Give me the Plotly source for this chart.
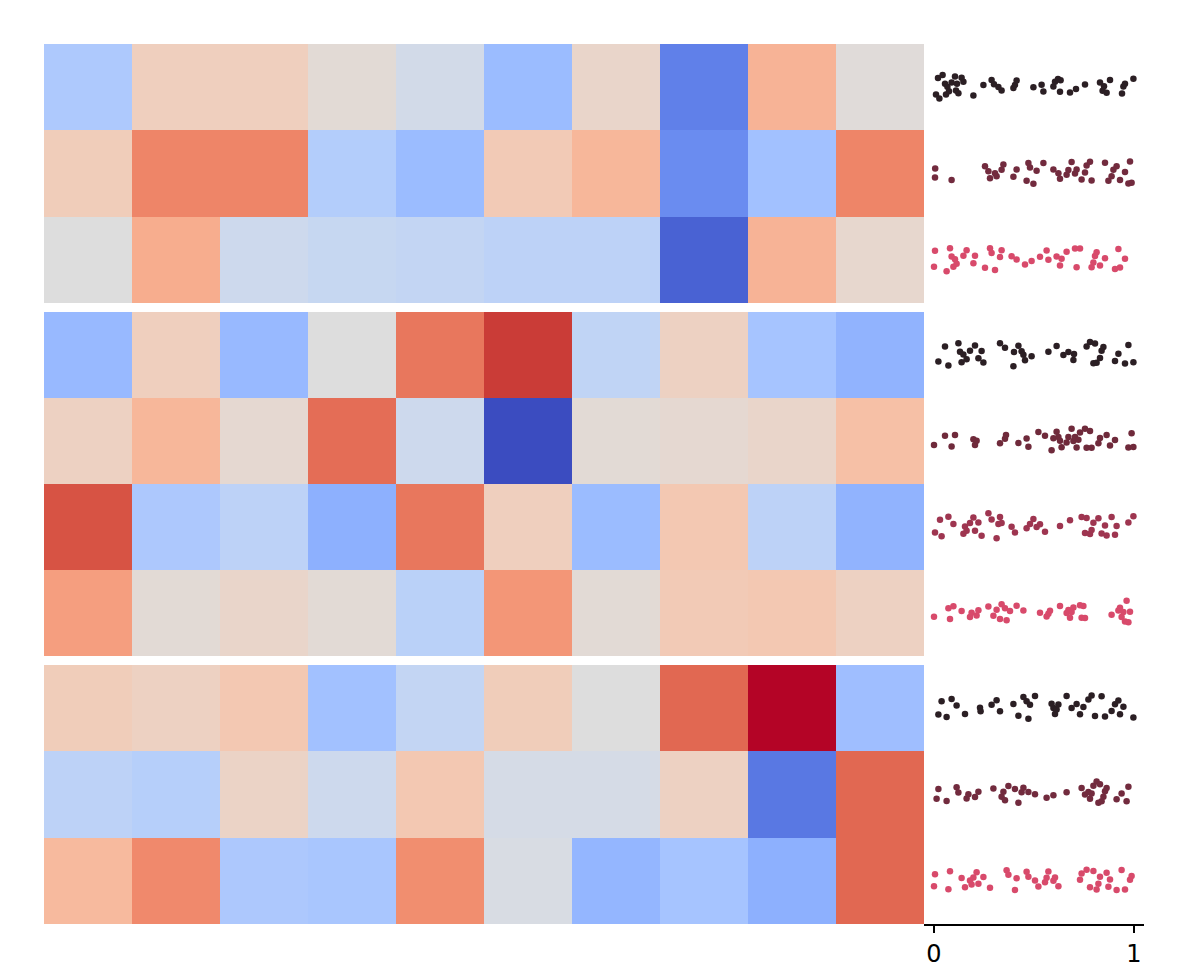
import plotly.graph_objects as go

# ---------------- data ----------------
heat_g1 = [
    [0.345, 0.58, 0.58, 0.52, 0.46, 0.29, 0.55, 0.12, 0.68, 0.51],
    [0.59, 0.80, 0.80, 0.36, 0.29, 0.60, 0.67, 0.15, 0.31, 0.80],
    [0.50, 0.70, 0.44, 0.42, 0.41, 0.39, 0.39, 0.05, 0.68, 0.54],
]
heat_g2 = [
    [0.28, 0.58, 0.28, 0.50, 0.83, 0.94, 0.40, 0.57, 0.32, 0.26],
    [0.57, 0.67, 0.53, 0.85, 0.44, 0.00, 0.52, 0.53, 0.55, 0.64],
    [0.90, 0.34, 0.39, 0.25, 0.83, 0.58, 0.29, 0.61, 0.39, 0.26],
    [0.74, 0.52, 0.55, 0.52, 0.38, 0.76, 0.52, 0.60, 0.61, 0.57],
]
heat_g3 = [
    [0.59, 0.57, 0.61, 0.31, 0.41, 0.59, 0.50, 0.86, 1.00, 0.30],
    [0.39, 0.37, 0.56, 0.44, 0.61, 0.47, 0.47, 0.57, 0.10, 0.86],
    [0.66, 0.79, 0.34, 0.33, 0.78, 0.48, 0.27, 0.32, 0.25, 0.86],
]

pts_g1 = [
    [0.01, 0.02, 0.027, 0.043, 0.055, 0.06, 0.067, 0.075, 0.088, 0.105, 0.11, 0.115, 0.122,
     0.138, 0.147, 0.197, 0.247, 0.288, 0.30, 0.322, 0.338, 0.397, 0.405, 0.413, 0.497,
     0.538, 0.547, 0.597, 0.605, 0.62, 0.63, 0.633, 0.68, 0.71, 0.755, 0.83, 0.843, 0.85,
     0.863, 0.88, 0.94, 0.947, 0.955, 0.997],
    [0.005, 0.006, 0.088, 0.255, 0.272, 0.28, 0.305, 0.313, 0.338, 0.347, 0.397, 0.413,
     0.463, 0.472, 0.48, 0.497, 0.513, 0.547, 0.597, 0.622, 0.63, 0.663, 0.672, 0.688,
     0.705, 0.713, 0.738, 0.755, 0.763, 0.78, 0.788, 0.855, 0.872, 0.888, 0.897, 0.913,
     0.93, 0.955, 0.972, 0.98, 0.988],
    [0.0, 0.005, 0.063, 0.08, 0.088, 0.097, 0.105, 0.113, 0.147, 0.163, 0.197, 0.205,
     0.255, 0.28, 0.288, 0.305, 0.33, 0.338, 0.388, 0.413, 0.455, 0.488, 0.53, 0.563,
     0.572, 0.613, 0.63, 0.638, 0.663, 0.705, 0.713, 0.73, 0.788, 0.797, 0.805, 0.813,
     0.83, 0.855, 0.905, 0.922, 0.93, 0.955],
]
pts_g2 = [
    [0.022, 0.055, 0.072, 0.122, 0.13, 0.138, 0.147, 0.163, 0.18, 0.205, 0.222, 0.238,
     0.247, 0.33, 0.355, 0.397, 0.40, 0.422, 0.438, 0.447, 0.455, 0.488, 0.572, 0.613,
     0.647, 0.672, 0.697, 0.70, 0.763, 0.78, 0.797, 0.805, 0.813, 0.83, 0.838, 0.847,
     0.905, 0.922, 0.955, 0.972, 0.997],
    [0.0, 0.055, 0.088, 0.105, 0.197, 0.205, 0.213, 0.33, 0.355, 0.36, 0.422, 0.463,
     0.472, 0.522, 0.555, 0.588, 0.597, 0.613, 0.622, 0.63, 0.638, 0.663, 0.672, 0.688,
     0.697, 0.705, 0.713, 0.722, 0.73, 0.755, 0.763, 0.78, 0.788, 0.822, 0.83, 0.863,
     0.88, 0.905, 0.972, 0.988, 0.997],
    [0.005, 0.03, 0.038, 0.072, 0.097, 0.147, 0.155, 0.163, 0.18, 0.197, 0.205, 0.222,
     0.238, 0.272, 0.288, 0.313, 0.322, 0.33, 0.338, 0.388, 0.405, 0.463, 0.48, 0.497,
     0.513, 0.53, 0.555, 0.63, 0.68, 0.738, 0.755, 0.763, 0.78, 0.788, 0.797, 0.822,
     0.838, 0.855, 0.863, 0.888, 0.905, 0.913, 0.972, 0.997],
    [0.0, 0.072, 0.08, 0.097, 0.138, 0.18, 0.188, 0.213, 0.222, 0.272, 0.297, 0.313,
     0.33, 0.338, 0.355, 0.363, 0.38, 0.413, 0.447, 0.53, 0.563, 0.572, 0.58, 0.63,
     0.663, 0.672, 0.68, 0.688, 0.697, 0.73, 0.738, 0.747, 0.755, 0.888, 0.922, 0.93,
     0.938, 0.947, 0.955, 0.963, 0.972, 0.98],
]
pts_g3 = [
    [0.022, 0.038, 0.063, 0.088, 0.113, 0.155, 0.23, 0.233, 0.288, 0.313, 0.33, 0.397,
     0.422, 0.447, 0.463, 0.472, 0.48, 0.505, 0.588, 0.597, 0.605, 0.613, 0.622, 0.663,
     0.688, 0.713, 0.73, 0.747, 0.772, 0.788, 0.805, 0.838, 0.855, 0.888, 0.905, 0.922,
     0.93, 0.947, 0.997],
    [0.013, 0.022, 0.063, 0.113, 0.122, 0.163, 0.172, 0.205, 0.222, 0.297, 0.338, 0.347,
     0.355, 0.372, 0.405, 0.422, 0.438, 0.447, 0.472, 0.505, 0.563, 0.597, 0.663, 0.738,
     0.755, 0.772, 0.78, 0.788, 0.797, 0.813, 0.822, 0.83, 0.838, 0.847, 0.855, 0.863,
     0.913, 0.938, 0.963, 0.972],
    [0.0, 0.005, 0.072, 0.08, 0.138, 0.155, 0.18, 0.188, 0.197, 0.213, 0.222, 0.247,
     0.28, 0.363, 0.372, 0.405, 0.413, 0.463, 0.472, 0.505, 0.522, 0.555, 0.563, 0.572,
     0.597, 0.605, 0.622, 0.73, 0.738, 0.763, 0.78, 0.797, 0.813, 0.822, 0.83, 0.863,
     0.872, 0.88, 0.913, 0.938, 0.955, 0.98, 0.988],
]

colors_3 = ["#2b1f24", "#722b3e", "#d84a6b"]
colors_4 = ["#2b1f24", "#6f2a3b", "#9e3550", "#d84a6b"]

tick_vals = [0, 1]
tick_text = ["0", "1"]

# Moreland coolwarm
coolwarm = [
    "#3b4cc0", "#445acc", "#4d68d7", "#5775e1", "#6282ea", "#6c8ef1", "#779af7", "#82a5fb",
    "#8db0fe", "#98b9ff", "#a3c2ff", "#aec9fd", "#b8d0f9", "#c2d5f4", "#ccd9ee", "#d5dbe6",
    "#dddddd", "#e5d8d1", "#ecd3c5", "#f1ccb8", "#f5c4ac", "#f7bb9f", "#f7b193", "#f7a686",
    "#f49a7b", "#f18d6f", "#ec7f63", "#e57058", "#de604d", "#d55042", "#cb3e38", "#c0282f",
    "#b40426",
]
colorscale = [[i / (len(coolwarm) - 1), c] for i, c in enumerate(coolwarm)]

# ---------------- layout geometry ----------------
W, H = 1188, 968
ML, MR, MT, MB = 44, 44, 44, 44
PW, PH = W - ML - MR, H - MT - MB
x_split = 880 / PW
g_pix = [(44, 303), (312, 656), (665, 924)]
def ydom(top, bot):
    return [1 - (bot - MT) / PH, 1 - (top - MT) / PH]

fig = go.Figure()
groups = [(heat_g1, pts_g1, colors_3), (heat_g2, pts_g2, colors_4), (heat_g3, pts_g3, colors_3)]

for gi, (hz, pts, cols) in enumerate(groups):
    n = len(hz)
    hx = "x%d" % (2 * gi + 1)
    hy = "y%d" % (2 * gi + 1)
    sx = "x%d" % (2 * gi + 2)
    sy = "y%d" % (2 * gi + 2)
    fig.add_trace(go.Heatmap(z=hz, x=list(range(10)), y=list(range(n)),
                             coloraxis="coloraxis", xaxis=hx, yaxis=hy,
                             hoverinfo="skip"))
    for ri, vals in enumerate(pts):
        fig.add_trace(go.Box(
            x=vals, y0=ri, orientation="h", boxpoints="all", jitter=0.34, pointpos=0,
            width=1.0, fillcolor="rgba(0,0,0,0)", line=dict(color="rgba(0,0,0,0)", width=0),
            marker=dict(color=cols[ri], size=6.5), xaxis=sx, yaxis=sy, showlegend=False,
            hoverinfo="skip"))
    dom = ydom(*g_pix[gi])
    last = gi == len(groups) - 1
    fig.layout["xaxis%d" % (2 * gi + 1)] = dict(domain=[0, x_split], range=[-0.5, 9.5],
                                               visible=False, anchor=hy, automargin=False)
    fig.layout["yaxis%d" % (2 * gi + 1)] = dict(domain=dom, range=[n - 0.5, -0.5],
                                               visible=False, anchor=hx, automargin=False)
    fig.layout["xaxis%d" % (2 * gi + 2)] = dict(
        domain=[x_split, 1], range=[-0.05, 1.05], visible=last, anchor=sy,
        showline=True, linecolor="black", linewidth=2, ticks="outside", ticklen=7,
        tickwidth=2, tickcolor="black", tickvals=tick_vals, ticktext=tick_text,
        showgrid=False, zeroline=False, automargin=False,
        tickfont=dict(family="DejaVu Sans", size=24, color="black"))
    fig.layout["yaxis%d" % (2 * gi + 2)] = dict(domain=dom, range=[n - 0.5, -0.5],
                                               visible=False, anchor=sx, automargin=False)

fig.update_layout(
    width=W, height=H, margin=dict(l=ML, r=MR, t=MT, b=MB, autoexpand=False),
    paper_bgcolor="white", plot_bgcolor="white",
    coloraxis=dict(colorscale=colorscale, cmin=0, cmax=1, showscale=False),
    boxmode="overlay", showlegend=False,
)
fig.write_html("out.html")
